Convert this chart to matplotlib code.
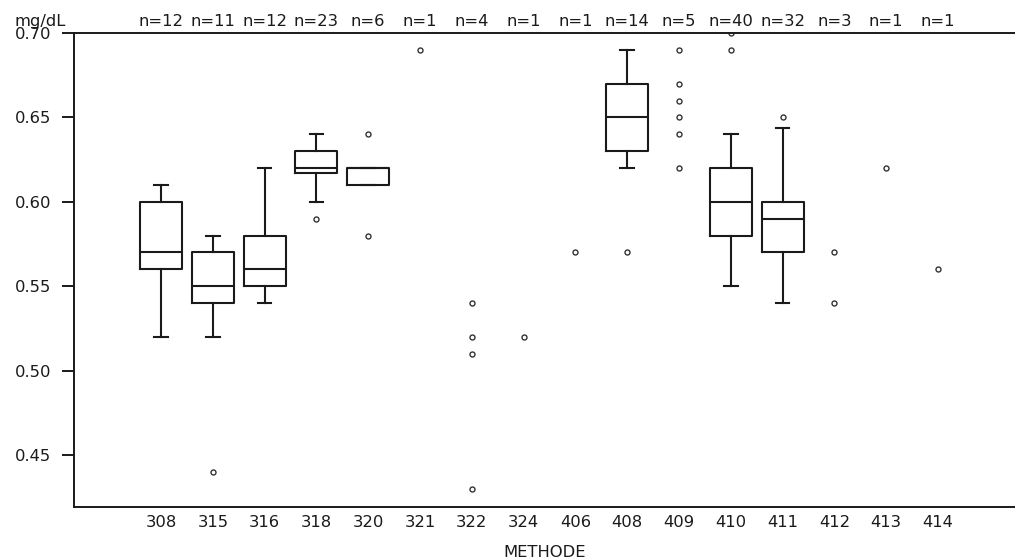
import matplotlib.pyplot as plt
import matplotlib.transforms as mtransforms

plt.rcParams['font.family'] = ['DejaVu Sans']

methods = ['308', '315', '316', '318', '320', '321', '322', '324',
           '406', '408', '409', '410', '411', '412', '413', '414']
counts = [12, 11, 12, 23, 6, 1, 4, 1, 1, 14, 5, 40, 32, 3, 1, 1]

# methods that get a box, with their five-number summaries
box_methods = ['308', '315', '316', '318', '320', '408', '410', '411']
q1 = [0.56, 0.54, 0.55, 0.617, 0.61, 0.63, 0.58, 0.57]
med = [0.57, 0.55, 0.56, 0.62, 0.62, 0.65, 0.60, 0.59]
q3 = [0.60, 0.57, 0.58, 0.63, 0.62, 0.67, 0.62, 0.60]
whislo = [0.52, 0.52, 0.54, 0.60, 0.61, 0.62, 0.55, 0.54]
whishi = [0.61, 0.58, 0.62, 0.64, 0.62, 0.69, 0.64, 0.644]

# single values drawn as dots (outliers or small groups)
points = {
    '315': [0.44],
    '318': [0.59],
    '320': [0.58, 0.64],
    '321': [0.69],
    '322': [0.54, 0.52, 0.51, 0.43],
    '324': [0.52],
    '406': [0.57],
    '408': [0.57],
    '409': [0.69, 0.67, 0.66, 0.65, 0.64, 0.62],
    '410': [0.69, 0.70],
    '411': [0.65],
    '412': [0.57, 0.54],
    '413': [0.62],
    '414': [0.56],
}

fs = 11.8
ink = '#1a1a1a'

fig = plt.figure(figsize=(10.15, 5.58), dpi=100)
ax = fig.add_axes([74 / 1015, 1 - 507 / 558, 1 - 74 / 1015, (507 - 33) / 558])

pos = {m: i for i, m in enumerate(methods)}

stats = []
for i, m in enumerate(box_methods):
    stats.append({'med': med[i], 'q1': q1[i], 'q3': q3[i],
                  'whislo': whislo[i], 'whishi': whishi[i], 'fliers': []})

line = dict(color=ink, linewidth=1.5)
ax.bxp(stats, positions=[pos[m] for m in box_methods], widths=0.81,
       capwidths=0.26, showfliers=False, patch_artist=False,
       boxprops=line, medianprops=line, whiskerprops=line, capprops=line)

for m, vals in points.items():
    ax.plot([pos[m]] * len(vals), vals, linestyle='none', marker='o',
            markersize=3.6, markerfacecolor='white', markeredgecolor='#333333',
            markeredgewidth=1.0, clip_on=True)

ax.set_xlim(-1.68, (1015 - 161) / 51.8)
ax.set_ylim(0.4192, 0.70)

ax.set_xticks(range(len(methods)))
ax.set_xticklabels(methods, fontsize=fs, color=ink)
ax.set_yticks([0.45, 0.50, 0.55, 0.60, 0.65, 0.70])
ax.set_yticklabels(['0.45', '0.50', '0.55', '0.60', '0.65', '0.70'],
                   fontsize=fs, color=ink)
ax.tick_params(axis='x', length=0, pad=5.5)
ax.tick_params(axis='y', length=8.6, width=1.4, pad=8, color=ink)
ax.set_xlabel('METHODE', fontsize=fs, color=ink, labelpad=11)

for side in ['left', 'top', 'bottom']:
    ax.spines[side].set_linewidth(1.4)
    ax.spines[side].set_color(ink)
ax.spines['right'].set_visible(False)

# group sizes above the frame
trans = mtransforms.blended_transform_factory(ax.transData, ax.transAxes)
for i, n in enumerate(counts):
    ax.annotate(f'n={n}', xy=(i, 1.0), xycoords=trans, xytext=(0, 5),
                textcoords='offset points', ha='center', va='baseline',
                fontsize=fs, color=ink, annotation_clip=False)

fig.text(15 / 1015, 1 - 26 / 558, 'mg/dL', fontsize=fs, color=ink,
         ha='left', va='baseline')

fig.savefig('out.png', dpi=100)
